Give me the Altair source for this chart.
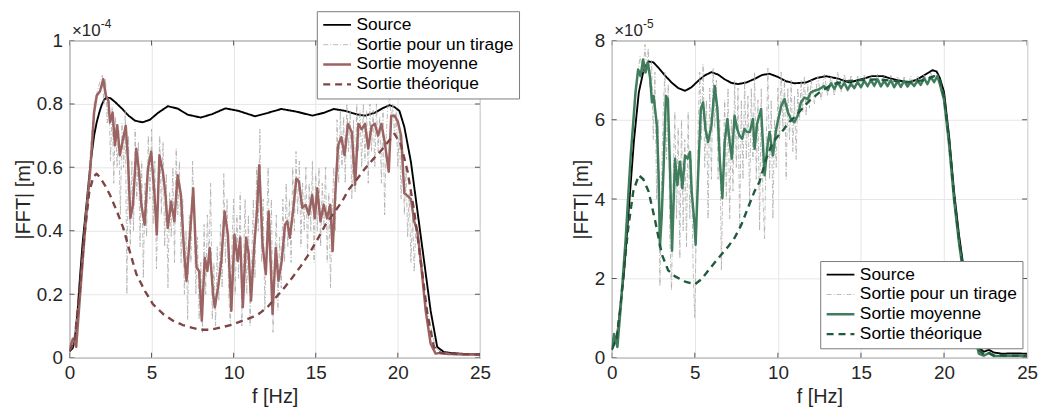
import altair as alt
import pandas as pd

SERIES = ["Source", "Sortie pour un tirage", "Sortie moyenne", "Sortie théorique"]
X_TICKS = [0, 5, 10, 15, 20, 25]
L_Y_TICKS = [0, 0.2, 0.4, 0.6, 0.8, 1.0]
R_Y_TICKS = [0, 2, 4, 6, 8]

# ---------------- left panel (values in units of 1e-4 m) ----------------
L_SOURCE = [(0, 0.02), (0.2, 0.03), (0.35, 0.07), (0.5, 0.15), (0.65, 0.26), (0.8, 0.36), (1.05, 0.49),
            (1.3, 0.62), (1.5, 0.7), (1.65, 0.74), (1.8, 0.77), (1.95, 0.795), (2.1, 0.812), (2.25, 0.82),
            (2.5, 0.818), (2.8, 0.805), (3.2, 0.785), (3.6, 0.763), (4.0, 0.747), (4.45, 0.742), (4.9, 0.75),
            (5.4, 0.772), (6.0, 0.793), (6.6, 0.785), (7.2, 0.766), (8.0, 0.757), (8.7, 0.768), (9.5, 0.786),
            (10.3, 0.778), (11.3, 0.761), (12.1, 0.772), (12.9, 0.784), (13.8, 0.776), (14.8, 0.763),
            (15.5, 0.772), (16.1, 0.784), (16.8, 0.778), (17.5, 0.767), (18.0, 0.763), (18.6, 0.772),
            (19.1, 0.787), (19.5, 0.796), (19.8, 0.79), (20.1, 0.778), (20.4, 0.727), (20.8, 0.617),
            (21.2, 0.461), (21.6, 0.305), (22.0, 0.148), (22.4, 0.034), (22.8, 0.018), (23.2, 0.015),
            (24.0, 0.012), (25.0, 0.01)]

L_DRAW = [(0, 0.02), (0.3, 0.05), (0.6, 0.2), (0.9, 0.4), (1.2, 0.6), (1.5, 0.8), (1.8, 0.86), (2.0, 0.89),
          (2.1, 0.8), (2.2, 0.88), (2.3, 0.74), (2.4, 0.82), (2.5, 0.62), (2.6, 0.79), (2.7, 0.55), (2.8, 0.76),
          (2.9, 0.6), (3.0, 0.72), (3.1, 0.45), (3.2, 0.74), (3.3, 0.6), (3.4, 0.78), (3.5, 0.2), (3.6, 0.7),
          (3.7, 0.35), (3.8, 0.62), (3.9, 0.4), (4.0, 0.72), (4.1, 0.5), (4.2, 0.68), (4.3, 0.35), (4.4, 0.62),
          (4.5, 0.25), (4.6, 0.55), (4.7, 0.38), (4.8, 0.7), (4.9, 0.5), (5.0, 0.72), (5.1, 0.42), (5.2, 0.62),
          (5.3, 0.28), (5.4, 0.5), (5.5, 0.7), (5.6, 0.45), (5.7, 0.68), (5.8, 0.35), (5.9, 0.58), (6.0, 0.22),
          (6.1, 0.52), (6.2, 0.38), (6.3, 0.6), (6.4, 0.3), (6.5, 0.66), (6.6, 0.45), (6.7, 0.62), (6.8, 0.3),
          (6.9, 0.5), (7.0, 0.2), (7.1, 0.4), (7.2, 0.12), (7.3, 0.45), (7.4, 0.3), (7.5, 0.62), (7.6, 0.42),
          (7.7, 0.2), (7.8, 0.38), (7.9, 0.12), (8.0, 0.3), (8.1, 0.08), (8.2, 0.42), (8.3, 0.2), (8.4, 0.45),
          (8.5, 0.3), (8.6, 0.55), (8.7, 0.12), (8.8, 0.3), (8.9, 0.1), (9.0, 0.35), (9.1, 0.18), (9.2, 0.42),
          (9.3, 0.22), (9.4, 0.58), (9.5, 0.3), (9.6, 0.5), (9.7, 0.2), (9.8, 0.1), (9.9, 0.35), (10.0, 0.5),
          (10.1, 0.2), (10.2, 0.45), (10.3, 0.25), (10.4, 0.52), (10.5, 0.1), (10.6, 0.3), (10.7, 0.5),
          (10.8, 0.2), (10.9, 0.45), (11.0, 0.1), (11.1, 0.3), (11.2, 0.5), (11.3, 0.25), (11.4, 0.6),
          (11.5, 0.4), (11.6, 0.72), (11.7, 0.3), (11.8, 0.5), (11.9, 0.15), (12.0, 0.38), (12.1, 0.6),
          (12.2, 0.3), (12.3, 0.5), (12.4, 0.08), (12.5, 0.3), (12.6, 0.45), (12.7, 0.15), (12.8, 0.38),
          (12.9, 0.22), (13.0, 0.5), (13.1, 0.3), (13.2, 0.55), (13.3, 0.35), (13.4, 0.5), (13.5, 0.3),
          (13.6, 0.6), (13.7, 0.4), (13.8, 0.65), (13.9, 0.45), (14.0, 0.62), (14.1, 0.35), (14.2, 0.55),
          (14.3, 0.4), (14.4, 0.6), (14.5, 0.32), (14.6, 0.55), (14.7, 0.4), (14.8, 0.62), (14.9, 0.3),
          (15.0, 0.58), (15.1, 0.4), (15.2, 0.6), (15.3, 0.35), (15.4, 0.55), (15.5, 0.42), (15.6, 0.6),
          (15.7, 0.3), (15.8, 0.52), (15.9, 0.22), (16.0, 0.45), (16.1, 0.6), (16.2, 0.4), (16.3, 0.75),
          (16.4, 0.55), (16.5, 0.78), (16.6, 0.6), (16.7, 0.76), (16.8, 0.55), (16.9, 0.8), (17.0, 0.65),
          (17.1, 0.78), (17.2, 0.5), (17.3, 0.75), (17.4, 0.52), (17.5, 0.8), (17.6, 0.65), (17.7, 0.78),
          (17.8, 0.6), (17.9, 0.8), (18.0, 0.62), (18.1, 0.78), (18.2, 0.55), (18.3, 0.8), (18.4, 0.65),
          (18.5, 0.78), (18.6, 0.6), (18.7, 0.8), (18.8, 0.65), (18.9, 0.76), (19.0, 0.55), (19.1, 0.78),
          (19.2, 0.45), (19.3, 0.7), (19.4, 0.8), (19.5, 0.82), (19.6, 0.75), (19.7, 0.8), (19.8, 0.7),
          (19.9, 0.78), (20.0, 0.6), (20.1, 0.72), (20.2, 0.5), (20.3, 0.65), (20.4, 0.45), (20.5, 0.6),
          (20.6, 0.38), (20.7, 0.52), (20.8, 0.3), (20.9, 0.45), (21.0, 0.27), (21.1, 0.42), (21.3, 0.32),
          (21.6, 0.2), (22.0, 0.1), (22.3, 0.03), (22.6, 0.02), (23.0, 0.015), (25.0, 0.01)]

L_MEAN = [(0, 0.02), (0.05, 0.034), (0.21, 0.06), (0.41, 0.034), (0.65, 0.2), (0.96, 0.41), (1.26, 0.586),
          (1.5, 0.773), (1.66, 0.826), (1.86, 0.84), (2.06, 0.878), (2.22, 0.826), (2.37, 0.81), (2.47, 0.742),
          (2.63, 0.773), (2.77, 0.669), (2.91, 0.733), (3.07, 0.638), (3.23, 0.68), (3.43, 0.731), (3.57, 0.617),
          (3.71, 0.44), (3.87, 0.482), (4.07, 0.659), (4.24, 0.586), (4.38, 0.482), (4.58, 0.419), (4.78, 0.596),
          (4.98, 0.649), (5.18, 0.513), (5.32, 0.388), (5.48, 0.638), (5.69, 0.586), (5.85, 0.513), (5.99, 0.409),
          (6.19, 0.492), (6.39, 0.43), (6.59, 0.575), (6.79, 0.513), (6.99, 0.326), (7.13, 0.242), (7.34, 0.388),
          (7.54, 0.534), (7.74, 0.284), (7.9, 0.273), (8.06, 0.117), (8.24, 0.315), (8.4, 0.273), (8.54, 0.346),
          (8.75, 0.2), (8.85, 0.159), (9.05, 0.221), (9.25, 0.305), (9.45, 0.461), (9.65, 0.388), (9.86, 0.148),
          (10.05, 0.388), (10.25, 0.305), (10.4, 0.378), (10.56, 0.159), (10.76, 0.378), (10.92, 0.326),
          (11.06, 0.18), (11.26, 0.357), (11.42, 0.461), (11.56, 0.607), (11.76, 0.357), (11.96, 0.263),
          (12.13, 0.461), (12.27, 0.284), (12.37, 0.138), (12.57, 0.346), (12.73, 0.242), (12.93, 0.305),
          (13.13, 0.419), (13.27, 0.43), (13.42, 0.378), (13.62, 0.461), (13.82, 0.565), (13.98, 0.555),
          (14.18, 0.472), (14.38, 0.482), (14.58, 0.451), (14.78, 0.513), (14.95, 0.44), (15.09, 0.534),
          (15.29, 0.43), (15.49, 0.482), (15.69, 0.44), (15.89, 0.482), (16.03, 0.336), (16.19, 0.513),
          (16.36, 0.669), (16.56, 0.695), (16.76, 0.638), (16.96, 0.737), (17.2, 0.711), (17.4, 0.545),
          (17.6, 0.737), (17.8, 0.72), (18.0, 0.737), (18.2, 0.659), (18.4, 0.73), (18.6, 0.737), (18.8, 0.7),
          (19.0, 0.737), (19.2, 0.68), (19.45, 0.586), (19.6, 0.763), (19.8, 0.763), (20.0, 0.745), (20.2, 0.7),
          (20.4, 0.518), (20.6, 0.51), (20.8, 0.5), (21.0, 0.43), (21.2, 0.398), (21.4, 0.305), (21.7, 0.148),
          (22.0, 0.044), (22.3, 0.013), (22.6, 0.015), (23.0, 0.012), (24.0, 0.01), (25.0, 0.01)]

L_THEO = [(0, 0.02), (0.3, 0.05), (0.6, 0.2), (0.9, 0.38), (1.2, 0.52), (1.45, 0.57), (1.66, 0.58), (1.9, 0.565),
          (2.2, 0.54), (2.47, 0.513), (2.9, 0.46), (3.27, 0.41), (3.7, 0.33), (4.08, 0.263), (4.6, 0.21),
          (5.08, 0.169), (5.7, 0.138), (6.29, 0.117), (6.9, 0.103), (7.5, 0.094), (8.0, 0.088), (8.55, 0.088),
          (9.2, 0.095), (9.9, 0.104), (10.56, 0.117), (11.06, 0.126), (11.56, 0.139), (12.07, 0.16),
          (12.57, 0.19), (13.08, 0.22), (13.58, 0.253), (14.08, 0.288), (14.58, 0.326), (15.1, 0.372),
          (15.59, 0.419), (16.1, 0.456), (16.6, 0.492), (17.0, 0.529), (17.5, 0.562), (18.0, 0.596),
          (18.5, 0.626), (19.0, 0.654), (19.4, 0.68), (19.8, 0.706), (20.2, 0.67), (20.6, 0.586), (21.0, 0.461),
          (21.4, 0.305), (21.8, 0.139), (22.2, 0.034), (22.6, 0.015), (23.5, 0.012), (25.0, 0.01)]

# ---------------- right panel (values in units of 1e-5 m) ----------------
R_SOURCE = [(0, 0.2), (0.3, 0.5), (0.5, 1.2), (0.73, 2.1), (1.03, 3.77), (1.33, 5.44), (1.63, 6.69),
            (1.93, 7.27), (2.2, 7.47), (2.5, 7.45), (2.82, 7.31), (3.2, 7.12), (3.6, 6.94), (4.0, 6.8),
            (4.41, 6.73), (4.8, 6.82), (5.2, 6.98), (5.6, 7.12), (6.0, 7.2), (6.4, 7.14), (6.8, 7.02),
            (7.2, 6.93), (7.6, 6.9), (8.1, 6.94), (8.6, 7.03), (9.05, 7.13), (9.5, 7.16), (10.0, 7.08),
            (10.5, 6.97), (11.0, 6.92), (11.7, 6.94), (12.3, 7.05), (12.9, 7.1), (13.6, 7.04), (14.3, 6.94),
            (15.0, 7.02), (15.66, 7.1), (16.3, 7.1), (17.0, 7.02), (17.8, 6.94), (18.3, 7.0), (18.8, 7.12),
            (19.3, 7.25), (19.55, 7.22), (19.75, 7.05), (20.0, 6.7), (20.3, 5.6), (20.6, 4.2), (20.9, 3.1),
            (21.2, 2.2), (21.5, 1.5), (21.8, 0.8), (22.1, 0.25), (22.4, 0.15), (22.7, 0.2), (23.0, 0.13),
            (23.5, 0.1), (24.2, 0.11), (25.0, 0.1)]

R_DRAW = [(0, 0.2), (0.3, 0.6), (0.6, 1.5), (0.9, 3.3), (1.2, 5.2), (1.5, 6.9), (1.7, 7.6), (1.9, 7.2), (2.0, 7.9),
          (2.1, 7.3), (2.2, 7.8), (2.3, 6.8), (2.4, 7.5), (2.5, 5.5), (2.6, 7.2), (2.7, 4.0), (2.8, 6.0), (2.9, 1.8),
          (3.0, 4.5), (3.1, 6.2), (3.2, 7.2), (3.3, 5.0), (3.4, 6.9), (3.5, 3.0), (3.6, 1.7), (3.7, 4.5), (3.8, 6.2),
          (3.9, 3.5), (4.0, 5.8), (4.1, 2.5), (4.2, 6.0), (4.3, 3.2), (4.4, 5.5), (4.5, 2.8), (4.6, 6.2), (4.7, 3.5),
          (4.8, 5.0), (4.9, 2.2), (5.0, 1.0), (5.1, 3.5), (5.2, 5.8), (5.3, 7.2), (5.4, 5.5), (5.5, 7.4), (5.6, 4.8),
          (5.7, 6.5), (5.8, 3.5), (5.9, 6.8), (6.0, 4.5), (6.1, 7.3), (6.2, 5.8), (6.3, 7.0), (6.4, 4.5), (6.5, 6.0),
          (6.6, 2.2), (6.7, 4.8), (6.8, 6.5), (6.9, 4.0), (7.0, 6.8), (7.1, 3.5), (7.2, 6.0), (7.3, 4.2), (7.4, 7.0),
          (7.5, 4.8), (7.6, 6.8), (7.7, 3.2), (7.8, 6.5), (7.9, 4.5), (8.0, 7.0), (8.1, 5.0), (8.2, 6.6), (8.3, 3.8),
          (8.4, 6.8), (8.5, 5.0), (8.6, 7.2), (8.7, 4.5), (8.8, 6.5), (8.9, 3.2), (9.0, 6.8), (9.1, 4.0), (9.2, 3.0),
          (9.3, 5.5), (9.4, 7.3), (9.5, 4.5), (9.6, 6.5), (9.7, 3.5), (9.8, 6.0), (9.9, 4.8), (10.0, 6.8),
          (10.1, 5.5), (10.2, 7.2), (10.3, 5.8), (10.4, 7.0), (10.5, 4.5), (10.6, 6.8), (10.7, 5.5), (10.8, 7.0),
          (10.9, 5.2), (11.0, 6.6), (11.1, 5.0), (11.2, 6.8), (11.3, 6.0), (11.4, 7.0), (11.5, 6.2), (11.6, 7.1),
          (11.7, 6.1), (11.8, 6.9), (11.9, 6.3), (12.0, 7.0), (12.2, 6.4), (12.4, 7.1), (12.6, 6.5), (12.8, 7.15),
          (13.0, 6.6), (13.2, 7.1), (13.4, 6.6), (13.6, 7.2), (13.8, 6.7), (14.0, 7.15), (14.2, 6.7), (14.4, 7.1),
          (14.6, 6.75), (14.8, 7.1), (15.0, 6.8), (15.2, 7.15), (15.4, 6.8), (15.6, 7.12), (15.8, 6.8), (16.0, 7.15),
          (16.2, 6.85), (16.4, 7.1), (16.6, 6.8), (16.8, 7.12), (17.0, 6.8), (17.2, 7.1), (17.4, 6.8), (17.6, 7.08),
          (17.8, 6.8), (18.0, 7.1), (18.2, 6.85), (18.4, 7.12), (18.6, 6.9), (18.8, 7.15), (19.0, 6.9), (19.2, 7.18),
          (19.4, 6.95), (19.6, 7.15), (19.8, 6.85), (20.0, 6.5), (20.3, 5.4), (20.6, 4.0), (20.9, 2.9), (21.2, 2.0),
          (21.5, 1.3), (21.8, 0.6), (22.1, 0.12), (22.4, 0.06), (22.7, 0.12), (23.0, 0.05), (25.0, 0.05)]

R_MEAN = [(0, 0.2), (0.14, 0.6), (0.34, 0.27), (0.54, 1.27), (0.83, 2.94), (1.13, 5.02), (1.43, 6.69),
          (1.59, 7.27), (1.73, 7.1), (1.89, 7.52), (2.03, 7.19), (2.18, 7.44), (2.32, 7.02), (2.42, 6.44),
          (2.52, 6.6), (2.72, 5.85), (2.82, 4.6), (2.9, 2.8), (3.0, 3.5), (3.12, 4.77), (3.26, 6.6), (3.38, 6.52),
          (3.52, 4.6), (3.63, 2.7), (3.81, 5.02), (3.95, 4.35), (4.11, 4.94), (4.25, 4.27), (4.41, 5.1),
          (4.57, 5.02), (4.71, 5.19), (4.81, 4.19), (4.97, 3.44), (5.05, 2.85), (5.2, 4.6), (5.36, 6.27),
          (5.5, 6.44), (5.64, 5.77), (5.8, 5.44), (6.0, 5.85), (6.2, 6.85), (6.36, 6.27), (6.5, 5.02),
          (6.66, 4.02), (6.8, 5.44), (6.96, 6.02), (7.1, 5.44), (7.23, 5.02), (7.39, 6.1), (7.55, 5.77),
          (7.69, 5.6), (7.85, 5.52), (7.99, 5.77), (8.15, 5.69), (8.31, 5.69), (8.5, 6.02), (8.6, 5.27),
          (8.75, 5.9), (8.99, 6.27), (9.2, 4.6), (9.4, 5.44), (9.5, 5.69), (9.7, 5.1), (9.9, 5.77), (10.2, 6.35),
          (10.4, 6.52), (10.6, 6.19), (10.79, 6.02), (10.99, 5.94), (11.19, 6.1), (11.39, 6.44), (11.59, 6.56),
          (11.79, 6.52), (11.98, 6.69), (12.18, 6.73), (12.48, 6.77), (12.78, 6.85), (13.0, 6.75), (13.2, 6.92),
          (13.4, 6.78), (13.6, 6.95), (13.8, 6.8), (14.0, 6.93), (14.2, 6.76), (14.4, 6.9), (14.6, 6.8),
          (14.8, 6.95), (15.0, 6.82), (15.2, 6.98), (15.4, 6.85), (15.6, 7.0), (15.8, 6.86), (16.0, 7.02),
          (16.2, 6.84), (16.4, 6.98), (16.6, 6.85), (16.8, 7.0), (17.0, 6.82), (17.2, 6.97), (17.4, 6.83),
          (17.6, 6.98), (17.8, 6.84), (18.0, 6.95), (18.2, 6.85), (18.4, 6.98), (18.6, 6.88), (18.8, 7.05),
          (19.0, 6.9), (19.2, 7.08), (19.4, 6.95), (19.6, 7.1), (19.75, 6.9), (20.0, 6.5), (20.3, 5.4),
          (20.6, 4.0), (20.9, 2.9), (21.2, 2.0), (21.5, 1.3), (21.8, 0.6), (22.1, 0.1), (22.4, 0.05),
          (22.7, 0.12), (23.0, 0.04), (25.0, 0.04)]

R_THEO = [(0, 0.2), (0.3, 0.5), (0.5, 1.2), (0.73, 2.2), (1.0, 3.3), (1.3, 4.2), (1.63, 4.6), (1.9, 4.5),
          (2.22, 4.19), (2.62, 3.44), (3.02, 2.6), (3.4, 2.2), (3.81, 2.05), (4.41, 1.92), (5.0, 1.85),
          (5.4, 1.98), (5.8, 2.19), (6.2, 2.4), (6.6, 2.6), (7.0, 2.8), (7.39, 3.02), (7.8, 3.35), (8.19, 3.77),
          (8.6, 4.2), (8.9, 4.44), (9.3, 5.02), (9.7, 5.44), (10.3, 5.73), (10.7, 5.95), (11.09, 6.1),
          (11.5, 6.3), (11.9, 6.48), (12.5, 6.69), (13.3, 6.9), (14.27, 6.98), (15.0, 7.0), (16.0, 7.02),
          (17.0, 6.98), (18.0, 6.95), (18.8, 7.0), (19.4, 7.1), (19.75, 7.0), (20.0, 6.6), (20.3, 5.5),
          (20.6, 4.1), (20.9, 3.0), (21.2, 2.1), (21.5, 1.4), (21.8, 0.7), (22.1, 0.2), (22.4, 0.08),
          (22.7, 0.12), (23.0, 0.06), (25.0, 0.05)]

L_COLORS = ["#000000", "#a9a9a9", "#9b6362", "#7d4545"]
R_COLORS = ["#000000", "#a9a9a9", "#3f7d5c", "#1f5a3c"]
DASHES = [[1, 0], [5, 2, 1, 2], [1, 0], [7, 5]]
WIDTHS = [1.9, 0.8, 2.5, 2.4]

FONT = "Liberation Sans"
INK = "#262626"
FRAME = "#555555"
HEIGHT = 320


def to_frame(series_pairs):
    rows = []
    for name, pairs in zip(SERIES, series_pairs):
        for f, v in pairs:
            rows.append({"series": name, "f": f, "v": v})
    return pd.DataFrame(rows)


def panel(df, colors, ymax, yticks, width, legend_x, legend_y, exponent):
    leg = alt.Legend(orient="none", legendX=legend_x, legendY=legend_y, title=None,
                     symbolType="stroke", symbolSize=784, labelFontSize=17.5, labelFont=FONT,
                     labelColor="#000000", labelLimit=0, labelOffset=4, rowPadding=1,
                     clipHeight=17.5, padding=5, strokeColor="#7a7a7a", fillColor="#ffffff",
                     cornerRadius=0)
    xs = alt.Scale(domain=[0, 25], nice=False)
    ys = alt.Scale(domain=[0, ymax], nice=False)
    x_main = alt.X("f:Q", title="f [Hz]", scale=xs, axis=alt.Axis(values=X_TICKS, format="~g"))
    y_main = alt.Y("v:Q", title="|FFT| [m]", scale=ys, axis=alt.Axis(values=yticks, format="~g"))
    color = alt.Color("series:N", scale=alt.Scale(domain=SERIES, range=colors), legend=leg)
    dash = alt.StrokeDash("series:N", scale=alt.Scale(domain=SERIES, range=DASHES), legend=leg)
    sw = alt.StrokeWidth("series:N", scale=alt.Scale(type="ordinal", domain=SERIES, range=WIDTHS), legend=leg)
    layers = []
    for name in SERIES:
        layers.append(
            alt.Chart(df).transform_filter(alt.datum.series == name)
            .mark_line(clip=True, strokeCap="butt", strokeJoin="round")
            .encode(x=x_main, y=y_main, color=color, strokeDash=dash, strokeWidth=sw)
        )
    anchor = pd.DataFrame({"f": [0], "v": [ymax]})
    t1 = alt.Chart(anchor).mark_text(text="×10", align="left", baseline="alphabetic", dx=2.5, dy=-5,
                                      fontSize=17, font=FONT, color=INK).encode(x=x_main, y=y_main)
    t2 = alt.Chart(anchor).mark_text(text=exponent, align="left", baseline="alphabetic", dx=31.5, dy=-12.5,
                                      fontSize=12, font=FONT, color=INK).encode(x=x_main, y=y_main)
    # inward tick marks on all four sides of the box (MATLAB style), half clipped away by the frame
    xt = pd.DataFrame({"f": X_TICKS + X_TICKS, "v": [0] * len(X_TICKS) + [ymax] * len(X_TICKS)})
    yt = pd.DataFrame({"f": [0] * len(yticks) + [25] * len(yticks), "v": yticks + yticks})
    ticks_x = alt.Chart(xt).mark_tick(orient="vertical", size=10, thickness=1, color=FRAME, clip=True,
                                      opacity=1).encode(x=x_main, y=y_main)
    ticks_y = alt.Chart(yt).mark_tick(orient="horizontal", size=10, thickness=1, color=FRAME, clip=True,
                                      opacity=1).encode(x=x_main, y=y_main)
    return alt.layer(*layers, t1, t2, ticks_x, ticks_y).properties(width=width, height=HEIGHT)


left = panel(to_frame([L_SOURCE, L_DRAW, L_MEAN, L_THEO]), L_COLORS, 1.0, L_Y_TICKS, 414, 249.5, -29.5, "-4")
right = panel(to_frame([R_SOURCE, R_DRAW, R_MEAN, R_THEO]), R_COLORS, 8, R_Y_TICKS, 419, 210.3, 222.5, "-5")

chart = (
    alt.hconcat(left, right, spacing=133, bounds="flush")
    .resolve_scale(color="independent", strokeDash="independent", strokeWidth="independent",
                   y="independent", x="independent")
    .resolve_legend(color="independent", strokeDash="independent", strokeWidth="independent")
    .properties(padding={"left": 5, "top": 0, "right": 0, "bottom": 0}, background="white")
    .configure_axis(labelFont=FONT, titleFont=FONT, labelFontSize=19, titleFontSize=20,
                    labelColor=INK, titleColor=INK, titleFontWeight="normal", gridColor="#e6e6e6",
                    domain=False, ticks=False, labelPadding=7, titlePadding=3, labelFlush=False)
    .configure_axisX(titlePadding=4, labelPadding=6)
    .configure_view(stroke=FRAME, strokeWidth=1)
)

chart.save("out.html", embed_options={"renderer": "svg", "actions": False})
